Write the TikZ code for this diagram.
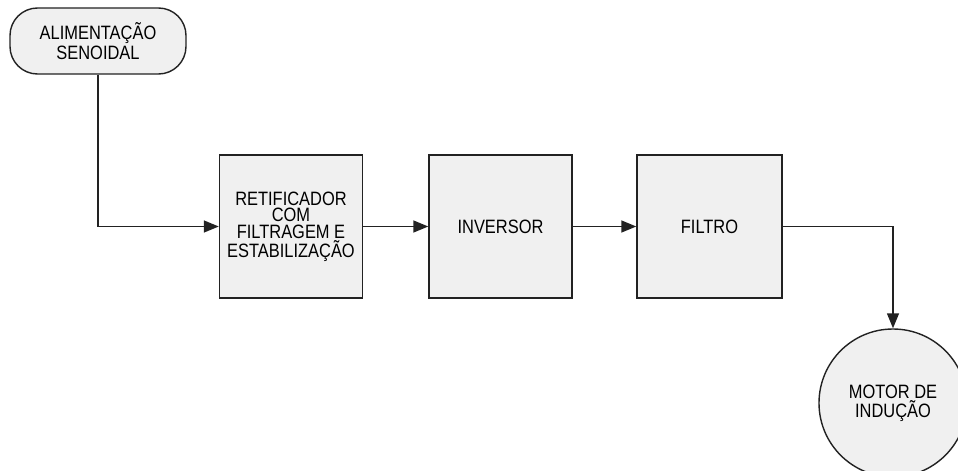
\documentclass[tikz,border=0pt]{standalone}
\usepackage{fontspec}
\setmainfont{Liberation Sans}[FakeStretch=0.85]
\usepackage{xcolor}
\usetikzlibrary{arrows.meta, calc}
\definecolor{caixa}{HTML}{F0F0F0}
\definecolor{traco}{HTML}{222222}
\tikzset{
    blk/.style={draw=traco, fill=caixa, line width=0.8pt, minimum width=2.86cm, minimum height=2.86cm, inner sep=2pt, align=center, font=\fontsize{11}{9.4}\selectfont},
    fonte/.style={draw=traco, fill=caixa, line width=0.8pt, rounded corners=0.55cm, minimum width=3.52cm, minimum height=1.32cm, inner sep=2pt, align=center, font=\fontsize{11}{9.4}\selectfont},
    motor/.style={draw=traco, fill=caixa, line width=0.8pt, circle, minimum size=2.96cm, inner sep=0pt, align=center, font=\fontsize{11}{9.4}\selectfont},
    bd/.style={-{Triangle[length=3mm, width=2.4mm]}, line width=0.8pt, draw=traco}
}
\begin{document}
\begin{tikzpicture}
        \useasboundingbox (0,0) rectangle (19.16,9.4);
        \node[fonte] (ali) at (1.96,8.58) {ALIMENTAÇÃO\\SENOIDAL};
        \node[blk] (ret) at (5.82,4.87) {RETIFICADOR\\COM\\FILTRAGEM E\\ESTABILIZAÇÃO};
        \node[blk] (inv) at (10.01,4.87) {INVERSOR};
        \node[blk, minimum width=2.9cm] (fil) at (14.19,4.87) {FILTRO};
        \node[motor] (mot) at (17.86,1.34) {MOTOR DE\\INDUÇÃO};

        \draw[bd] (ali) |- (ret);
        \draw[bd] (ret) -- (inv);
        \draw[bd] (inv) -- (fil);
        \draw[bd] (fil) -| (mot);
    \end{tikzpicture}
\end{document}
